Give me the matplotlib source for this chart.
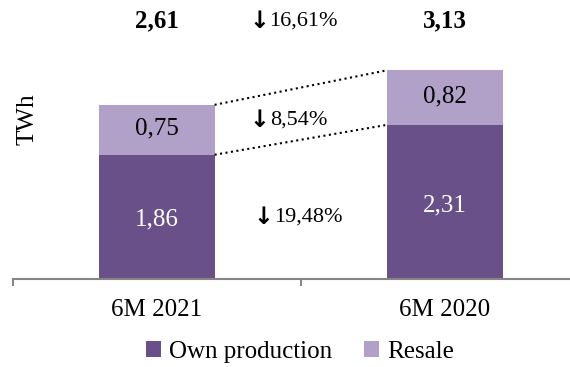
import numpy as np
import matplotlib.pyplot as plt

# Electricity volumes, TWh
periods = ["6M 2021", "6M 2020"]
own_production = [1.86, 2.31]
resale = [0.75, 0.82]
totals = [2.61, 3.13]
own_labels = ["1,86", "2,31"]
resale_labels = ["0,75", "0,82"]
total_labels = ["2,61", "3,13"]

# change labels: (text, x, y) in data units
changes = [("16,61%", 0.388, 3.87), ("8,54%", 0.39, 2.38), ("19,48%", 0.403, 0.93)]

c_own = "#6A5088"
c_resale = "#B1A1C8"
fs = 18
fs_pct = 16

plt.rcParams["font.family"] = ["Liberation Serif", "DejaVu Serif"]

fig = plt.figure(figsize=(5.7, 3.67), dpi=100)
ax = fig.add_axes([13 / 570, (367 - 278.5) / 367, 1 - 13 / 570, 278.5 / 367])

x = np.arange(len(periods))
w = 0.4
ax.bar(x, own_production, w, color=c_own, label="Own production")
ax.bar(x, resale, w, bottom=own_production, color=c_resale, label="Resale")

# segment values
for i in range(len(x)):
    ax.text(x[i], own_production[i] / 2 - 0.05, own_labels[i], ha="center", va="center",
            color="white", fontsize=fs)
    ax.text(x[i], own_production[i] + resale[i] / 2 + 0.02, resale_labels[i], ha="center",
            va="center", color="black", fontsize=fs)
    ax.text(x[i], 3.87, total_labels[i], ha="center", va="center", fontsize=fs,
            fontweight="bold")

# dotted connectors between the bars
ax.plot([x[0] + w / 2, x[1] - w / 2], [totals[0], totals[1]], ls=":", color="black", lw=1.5)
ax.plot([x[0] + w / 2, x[1] - w / 2], [own_production[0], own_production[1]], ls=":",
        color="black", lw=1.5)

# down arrow + percentage change
for txt, xp, yp in changes:
    ax.text(xp, yp, "\u2193", ha="right", va="center", fontsize=fs_pct + 1,
            fontweight="bold", family=["DejaVu Sans"])
    ax.text(xp + 0.002, yp, txt, ha="left", va="center", fontsize=fs_pct)

ax.set_xlim(-0.5, 1.434)
ax.set_ylim(0, 4.185)

for s in ["top", "right", "left"]:
    ax.spines[s].set_visible(False)
ax.spines["bottom"].set_color("#868686")
ax.spines["bottom"].set_linewidth(1.5)
ax.set_yticks([])
ax.set_xticks(x)
ax.set_xticklabels(periods, fontsize=fs)
ax.tick_params(axis="x", which="major", length=0, pad=15)
ax.set_xticks([-0.5, 0.5], minor=True)
ax.tick_params(axis="x", which="minor", length=5, width=1.5, color="#868686")

fig.text(27 / 570, 1 - 119 / 367, "TWh", rotation=90, ha="center", va="center", fontsize=fs)

fig.legend(loc="center", bbox_to_anchor=(300 / 570, 1 - 352 / 367), ncol=2, frameon=False,
           fontsize=fs, handlelength=0.6, handleheight=0.6, handletextpad=0.3,
           columnspacing=1.3)

fig.savefig("out.png", dpi=100)
